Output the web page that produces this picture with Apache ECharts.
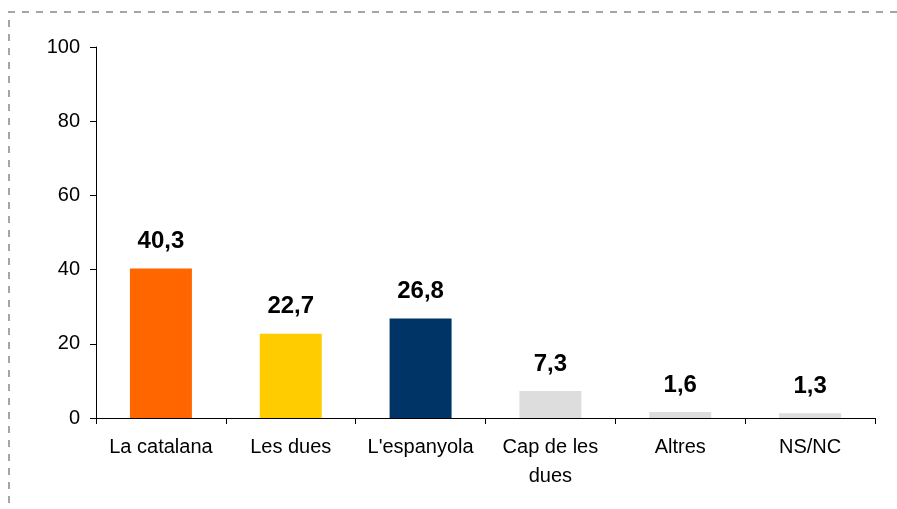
<!DOCTYPE html>
<html>
<head>
<meta charset="utf-8">
<script src="https://cdn.jsdelivr.net/npm/echarts@6/dist/echarts.min.js"></script>
<style>
  html, body { margin: 0; padding: 0; background: #fff; }
  #myChart { width: 897px; height: 509px; }
</style>
</head>
<body>
<div id="myChart"></div>
<script>
// categories (x axis)
var categories = ['La catalana', 'Les dues', "L'espanyola", 'Cap de les\ndues', 'Altres', 'NS/NC'];
// percentages
var values = [40.3, 22.7, 26.8, 7.3, 1.6, 1.3];
var barColors = ['#FF6600', '#FFCC00', '#003366', '#DDDDDD', '#DDDDDD', '#DDDDDD'];
var yTicks = [0, 20, 40, 60, 80, 100];

var chart = echarts.init(document.getElementById('myChart'));

var option = {
  animation: false,
  textStyle: { fontFamily: 'Liberation Sans, Arial, sans-serif' },
  grid: { left: 96, right: 22, top: 47, bottom: 91 },
  // dashed frame top + left
  graphic: [
    {
      type: 'line',
      shape: { x1: 8, y1: 12, x2: 897, y2: 12 },
      style: { stroke: '#888', lineWidth: 1.5, lineDash: [7, 7] }
    },
    {
      type: 'line',
      shape: { x1: 9, y1: 20, x2: 9, y2: 509 },
      style: { stroke: '#888', lineWidth: 1.5, lineDash: [7, 7] }
    }
  ],
  xAxis: {
    type: 'category',
    data: categories,
    axisLine: { lineStyle: { color: '#000', width: 1 } },
    axisTick: { show: true, length: 6, lineStyle: { color: '#000' } },
    axisLabel: { color: '#000', fontSize: 20, margin: 15, lineHeight: 29, interval: 0 }
  },
  yAxis: {
    type: 'value',
    min: yTicks[0],
    max: yTicks[yTicks.length - 1],
    interval: 20,
    splitLine: { show: false },
    axisLine: { show: true, lineStyle: { color: '#000', width: 1 } },
    axisTick: { show: true, length: 6, lineStyle: { color: '#000' } },
    axisLabel: { color: '#000', fontSize: 20, margin: 16 }
  },
  series: [
    {
      type: 'bar',
      barWidth: 62,
      data: values.map(function (v, i) {
        return { value: v, itemStyle: { color: barColors[i] } };
      }),
      label: {
        show: true,
        position: 'top',
        distance: 15,
        color: '#000',
        fontSize: 24,
        fontWeight: 'bold',
        formatter: function (p) { return String(p.value).replace('.', ','); }
      }
    }
  ]
};

chart.setOption(option);
</script>
</body>
</html>
